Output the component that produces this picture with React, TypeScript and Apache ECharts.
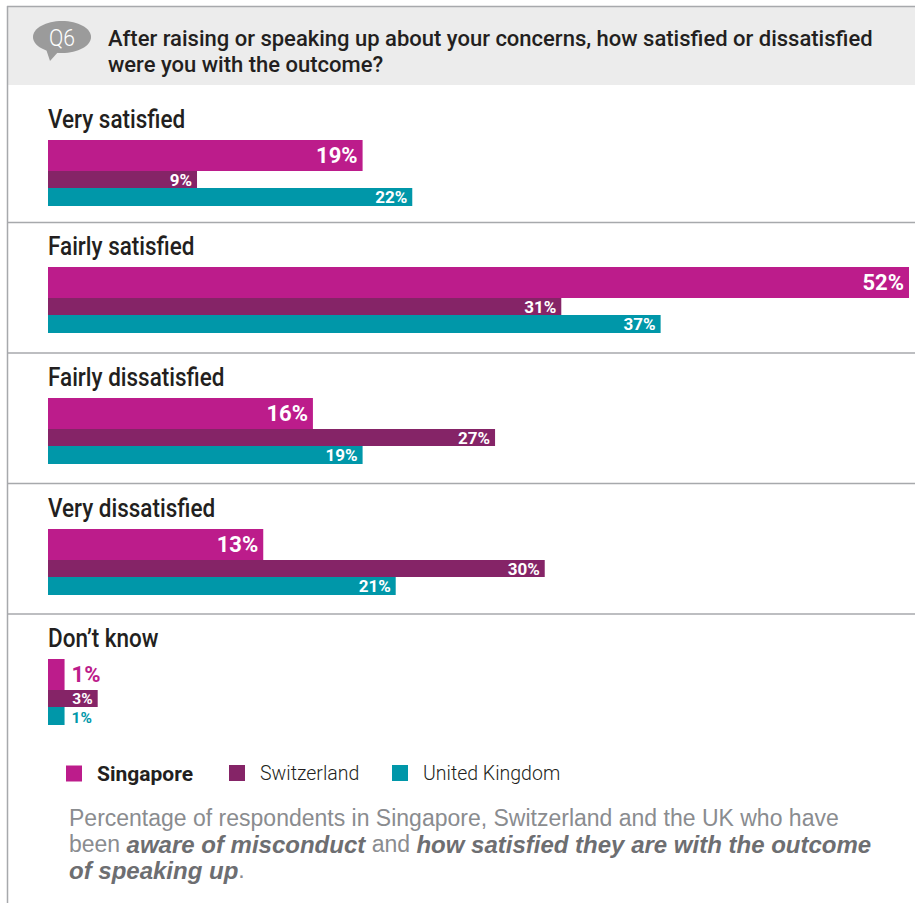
import React, { useEffect, useRef } from "react";
import * as echarts from "echarts";

// ---- Data ----
const categories = ["Very satisfied", "Fairly satisfied", "Fairly dissatisfied", "Very dissatisfied", "Don’t know"];
const seriesNames = ["Singapore", "Switzerland", "United Kingdom"];
const singapore = [19, 52, 16, 13, 1];
const switzerland = [9, 31, 27, 30, 3];
const unitedKingdom = [22, 37, 19, 21, 1];

const question = "After raising or speaking up about your concerns, how satisfied or dissatisfied\nwere you with the outcome?";

// ---- Styling / layout ----
const COLORS = ["#BC1C8B", "#852467", "#0097A9"];
const BAR_WIDTHS = [31, 17, 18];
const LABEL_SIZES = [22, 17, 17];
const BAR_TOPS = [140, 267, 398, 529, 659];
const SEPARATORS = [222.5, 353, 483.5, 614];
const FONT = "Roboto, 'Liberation Sans', sans-serif";
const FOOT_FONT = "'Liberation Sans', Arial, sans-serif";
const BORDER = "#a7a9ac";

export default function App() {
  const ref = useRef<HTMLDivElement>(null);

  useEffect(() => {
    if (!ref.current) return;
    const chart = echarts.init(ref.current, undefined, { renderer: "svg" });
    const valuesByCountry = [singapore, switzerland, unitedKingdom];

    const grids: any[] = [];
    const xAxes: any[] = [];
    const yAxes: any[] = [];
    const series: any[] = [];

    categories.forEach((cat, i) => {
      grids.push({ left: 48, right: 6, top: BAR_TOPS[i], height: 66 });
      xAxes.push({ gridIndex: i, type: "value", min: 0, max: 52, show: false });
      yAxes.push({ gridIndex: i, type: "category", data: [cat], inverse: true, show: false });
      seriesNames.forEach((name, k) => {
        const v = valuesByCountry[k][i];
        const outside = v < 2;
        const small = i === categories.length - 1 && k > 0;
        series.push({
          type: "bar",
          name,
          xAxisIndex: i,
          yAxisIndex: i,
          barWidth: BAR_WIDTHS[k],
          barGap: 0,
          barCategoryGap: 0,
          itemStyle: { color: COLORS[k] },
          label: {
            show: true,
            position: "insideRight",
            distance: 5,
            formatter: "{c}%",
            color: "#fff",
            fontWeight: "bold",
            fontSize: small ? 15.5 : LABEL_SIZES[k],
            lineHeight: (small ? 15.5 : LABEL_SIZES[k]) - 3,
            fontFamily: FONT,
          },
          data: [
            outside
              ? { value: v, label: { position: "right", distance: 7, color: COLORS[k], offset: [0, k > 0 ? 1.5 : 0] } }
              : { value: v },
          ],
        });
      });
    });

    const legendX = [66, 229, 392];
    const legends = seriesNames.map((name, k) => ({
      data: [
        {
          name,
          textStyle:
            k === 0
              ? { fontWeight: "bold", color: "#231f20", fontSize: 21 }
              : { fontWeight: 300, color: "#231f20", fontSize: 19.5 },
        },
      ],
      left: legendX[k],
      top: 763,
      padding: 0,
      icon: "rect",
      itemWidth: 16,
      itemHeight: 16,
      selectedMode: false,
      textStyle: { fontSize: 20, fontFamily: FONT, padding: [0, 0, 0, 10] },
    }));

    const graphic: any[] = [
      { type: "rect", shape: { x: 7, y: 6, width: 908, height: 79 }, style: { fill: "#ececec" }, z: -10 },
      { type: "line", shape: { x1: 7, y1: 6.5, x2: 915, y2: 6.5 }, style: { stroke: BORDER, lineWidth: 1.5 } },
      { type: "line", shape: { x1: 7.5, y1: 6, x2: 7.5, y2: 903 }, style: { stroke: BORDER, lineWidth: 1.5 } },
      ...SEPARATORS.map((y) => ({
        type: "line",
        shape: { x1: 7, y1: y, x2: 915, y2: y },
        style: { stroke: BORDER, lineWidth: 1.5 },
      })),
      { type: "ellipse", shape: { cx: 62, cy: 37, rx: 29, ry: 16 }, style: { fill: "#9b9b9b" } },
      { type: "polygon", shape: { points: [[45, 46], [50, 61], [59, 51]] }, style: { fill: "#9b9b9b" } },
      {
        type: "text",
        x: 62,
        y: 38,
        scaleX: 0.92,
        style: { text: "Q6", fill: "#fff", fontSize: 23, fontWeight: 300, fontFamily: FONT, align: "center", verticalAlign: "middle" },
      },
      {
        type: "text",
        x: 108,
        y: 25,
        style: { text: question, fill: "#231f20", fontSize: 22, lineHeight: 26, fontWeight: 500, fontFamily: FONT, verticalAlign: "top" },
      },
      ...categories.map((cat, i) => ({
        type: "text",
        x: 48,
        y: BAR_TOPS[i] - 11 - 9,
        scaleX: 0.9,
        style: { text: cat, fill: "#231f20", fontSize: 25, fontWeight: 500, fontFamily: FONT, verticalAlign: "middle" },
      })),
      {
        type: "text",
        x: 69,
        y: 805,
        style: {
          text:
            "{n|Percentage of respondents in Singapore, Switzerland and the UK who have}\n" +
            "{n|been }{b|aware of misconduct}{n| and }{b|how satisfied they are with the outcome}\n" +
            "{b|of speaking up}{n|.}",
          verticalAlign: "top",
          rich: {
            n: { fontSize: 23, lineHeight: 26, fontWeight: "normal", fontFamily: FOOT_FONT, fill: "#8a8c8f" },
            b: { fontSize: 24, lineHeight: 26, fontWeight: "bold", fontStyle: "italic", fontFamily: FOOT_FONT, fill: "#6d6e71" },
          },
        },
      },
    ];

    chart.setOption({
      animation: false,
      backgroundColor: "#fff",
      grid: grids,
      xAxis: xAxes,
      yAxis: yAxes,
      series,
      legend: legends,
      graphic,
    });

    return () => chart.dispose();
  }, []);

  return <div ref={ref} style={{ position: "absolute", left: 0, top: 0, width: 915, height: 903 }} />;
}
